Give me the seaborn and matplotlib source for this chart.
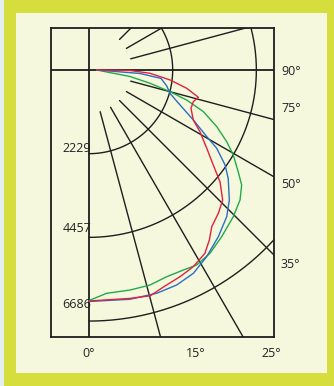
import numpy as np
import pandas as pd
import matplotlib
matplotlib.use("Agg")
import matplotlib.pyplot as plt
from matplotlib.patches import Rectangle
import seaborn as sns

# Luminous intensity distribution: gamma angle (deg from nadir) -> intensity (cd)
red_angle = [0, 6, 10.2, 15.2, 18.9, 23.8, 27.9, 32.3, 35.3, 38.1, 42.1, 45.8, 49.5,
             52.6, 56.4, 60.9, 64.4, 69.4, 73.1, 76.0, 79.4, 83.0, 86.9, 89.3, 90]
red_cd = [6150, 6145, 6180, 6230, 6110, 6014, 5929, 5777, 5546, 5300, 5140, 4966, 4590,
          4166, 3765, 3382, 3081, 2902, 2903, 3001, 2647, 2173, 1627, 1092, 205]

blue_angle = [0, 10.1, 16.9, 22.2, 27.2, 32.2, 37.8, 43.2, 47.2, 52.1, 55.1, 58.5,
              60.5, 64.4, 69.0, 73.9, 78.4, 83.3, 86.1, 90]
blue_cd = [6165, 6202, 6213, 6183, 6085, 5877, 5619, 5358, 5094, 4698, 4418, 3989,
           3603, 3081, 2596, 2245, 2113, 1931, 1361, 205]

green_angle = [0, 2.8, 4.5, 10.6, 15.8, 20.6, 25.2, 28.9, 33.4, 38.5, 44.5, 49.3, 53.0,
               55.7, 59.5, 62.5, 66.1, 70.0, 72.9, 75.0, 77.7, 81.0, 90]
green_cd = [6138, 6026, 5965, 5960, 5952, 5881, 5889, 5932, 5849, 5674, 5480, 5306, 5091,
            4811, 4460, 4134, 3721, 3240, 2722, 2234, 1663, 1105, 205]

ring_cd = [2229, 4457, 6686]
ray_angles = [15, 30, 45, 60, 75, 105, 120, 135]
side_labels = ["90°", "75°", "50°", "35°"]
bottom_labels = ["0°", "15°", "25°"]

BORDER = "#d6de3e"
PAPER = "#f5f8dd"
INK = "#1e1e1e"
palette = {"red": "#e2213d", "blue": "#2b6cc4", "green": "#1fab4b"}


def to_xy(angle_deg, cd):
    a = np.radians(np.asarray(angle_deg, dtype=float))
    r = np.asarray(cd, dtype=float)
    return r * np.sin(a), -r * np.cos(a)


frames = []
for name, ang, cd in [("green", green_angle, green_cd),
                      ("blue", blue_angle, blue_cd),
                      ("red", red_angle, red_cd)]:
    x, y = to_xy(ang, cd)
    frames.append(pd.DataFrame({"x": x, "y": y, "curve": name}))
curves = pd.concat(frames, ignore_index=True)

sns.set_theme(style="white")
plt.rcParams["font.family"] = ["Open Sans", "DejaVu Sans"]

fig = plt.figure(figsize=(3.34, 3.86), dpi=100)
fig.patch.set_facecolor(BORDER)
fig.patches.append(Rectangle((0, 0), 4 / 334, 1, transform=fig.transFigure,
                             facecolor="#e4edf2", edgecolor="none", zorder=-2))
fig.patches.append(Rectangle((16 / 334, 13 / 386), 311 / 334, 360 / 386,
                             transform=fig.transFigure, facecolor=PAPER,
                             edgecolor="none", zorder=-2))

ax = fig.add_axes([51 / 334, 49 / 386, 223 / 334, 309 / 386])
ax.set_zorder(1)
ax.set_facecolor(PAPER)
ax.set_xlim(-1012, 4927)
ax.set_ylim(-7110, 1118)

# nadir and horizontal axes through the luminaire
ax.axvline(0, color=INK, lw=1.3, zorder=2)
ax.axhline(0, color=INK, lw=1.3, zorder=2)

# gamma rays
for g in ray_angles:
    rx, ry = to_xy([g, g], [1150, 14000])
    ax.plot(rx, ry, color=INK, lw=1.0, zorder=2)

# iso-intensity rings
t = np.linspace(0, 180, 721)
for c in ring_cd:
    cx, cy = to_xy(t, np.full_like(t, c))
    ax.plot(cx, cy, color=INK, lw=1.0, zorder=2)

sns.lineplot(data=curves, x="x", y="y", hue="curve", estimator=None, sort=False,
             palette=palette, legend=False, lw=1.0, ax=ax, zorder=3)

for s in ax.spines.values():
    s.set_color(INK)
    s.set_linewidth(1.3)
ax.set_xticks([])
ax.set_yticks([])
ax.set_xlabel("")
ax.set_ylabel("")

txt = dict(fontsize=9, color="#222222", clip_on=False, va="baseline")
for val, yb in zip(ring_cd, [-2197, -4301, -6325]):
    ax.text(-700, yb, f"{val}", ha="left", **txt)
for lab, yb in zip(side_labels, [-133, -1110, -3150, -5273]):
    ax.text(5113, yb, lab, ha="left", **txt)
for lab, xl in zip(bottom_labels, [-180, 2590, 4590]):
    ax.text(xl, -7635, lab, ha="left", **txt)

fig.savefig("out.png", dpi=100, facecolor=fig.get_facecolor())
